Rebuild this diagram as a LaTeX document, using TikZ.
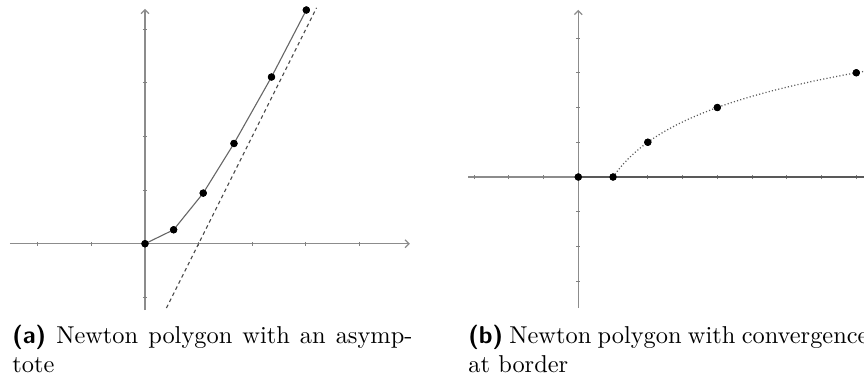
\documentclass[tikz,border=0pt]{standalone}
\usetikzlibrary{arrows.meta}
\begin{document}
\begin{tikzpicture}[x=0.41pt,y=-0.41pt,
  axisln/.style={draw=black!45,line width=0.5pt,-{Straight Barb[length=1.6pt,width=3.2pt]}},
  tickmk/.style={draw=black!50,line width=0.35pt},
  ptdot/.style={circle,fill=black,inner sep=0pt,minimum size=3pt},
  polyln/.style={draw=black!60,line width=0.45pt},
  asymln/.style={draw=black!70,line width=0.45pt,dash pattern=on 1.5pt off 1.3pt},
  borderln/.style={draw=black!65,line width=0.9pt},
  convln/.style={draw=black!65,line width=0.5pt,dash pattern=on 0.45pt off 0.9pt},
  captxt/.style={anchor=north west,inner sep=0pt,text width=164pt,align=justify,font=\normalsize}]
\useasboundingbox (0,0) rectangle (864,376);
% ---------- panel (a)
\begin{scope}[shift={(145,243.7)},x=21.976pt,y=21.976pt]
  \coordinate (axl) at (-2.52,0);
  \coordinate (axr) at (4.94,0);
  \coordinate (ayb) at (0,-1.24);
  \coordinate (ayt) at (0,4.38);
  \draw[axisln] (axl) -- (axr);
  \draw[axisln] (ayb) -- (ayt);
  \foreach \k in {-2,-1,1,2,3,4} \draw[tickmk] (\k,-0.04) -- (\k,0.04);
  \foreach \k in {-1,1,2,3,4} \draw[tickmk] (-0.04,\k) -- (0.04,\k);
  \coordinate (d1) at (0.4,-1.2);
  \coordinate (d2) at (3.2,4.4);
  \draw[asymln] (d1) -- (d2);
  \node[ptdot] (a0) at (0,0) {};
  \node[ptdot] (a1) at (0.534,0.26) {};
  \node[ptdot] (a2) at (1.086,0.944) {};
  \node[ptdot] (a3) at (1.66,1.87) {};
  \node[ptdot] (a4) at (2.36,3.11) {};
  \node[ptdot] (a5) at (3.01,4.36) {};
  \draw[polyln] (a0.center) -- (a1.center) -- (a2.center) -- (a3.center) -- (a4.center) -- (a5.center);
  \foreach \n in {a0,a1,a2,a3,a4,a5} \node[ptdot] at (\n) {};
\end{scope}
% ---------- panel (b)
\begin{scope}[shift={(578.3,177)},x=14.2475pt,y=14.2475pt]
  \coordinate (bxl) at (-3.17,0);
  \coordinate (bxr) at (8.6,0);
  \coordinate (byb) at (0,-3.77);
  \coordinate (byt) at (0,4.81);
  \draw[axisln] (bxl) -- (bxr);
  \draw[axisln] (byb) -- (byt);
  \foreach \k in {-3,-2,-1,1,2,3,4,5,6,7,8} \draw[tickmk] (\k,-0.06) -- (\k,0.06);
  \foreach \k in {-3,-2,-1,1,2,3,4} \draw[tickmk] (-0.06,\k) -- (0.06,\k);
  \node[ptdot] (b0) at (0,0) {};
  \node[ptdot] (b1) at (1,0) {};
  \node[ptdot] (b2) at (2,1) {};
  \node[ptdot] (b3) at (4,2) {};
  \node[ptdot] (b4) at (8,3) {};
  \draw[borderln] (b0.center) -- (bxr);
  \draw[convln] plot[domain=1:8.6,samples=80,smooth] (\x,{ln(\x)/ln(2)});
  \foreach \n in {b0,b1,b2,b3,b4} \node[ptdot] at (\n) {};
\end{scope}
% ---------- captions
\node[captxt] (capa) at (12,324.5) {\textsf{\textbf{(a)}} Newton polygon with an asymptote};
\node[captxt] (capb) at (468,324.5) {\textsf{\textbf{(b)}} Newton polygon with convergence at border};
\end{tikzpicture}
\end{document}
